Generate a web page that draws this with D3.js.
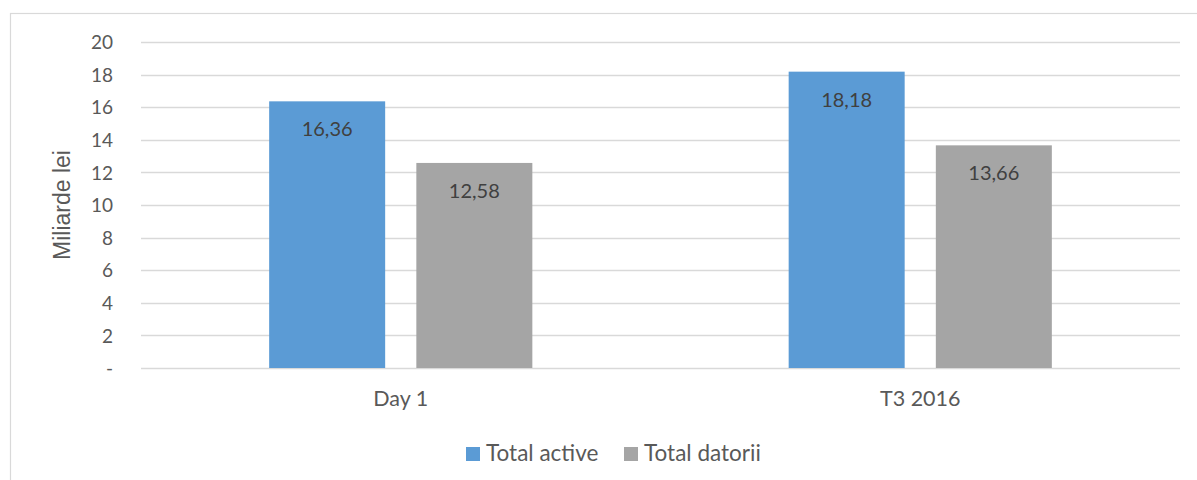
<!DOCTYPE html>
<html>
<head>
<meta charset="utf-8">
<script src="https://cdn.jsdelivr.net/npm/d3@7"></script>
<style>
  html, body { margin: 0; padding: 0; background: #fff; }
  svg { display: block; }
</style>
</head>
<body>
<svg id="chart" width="1197" height="480"></svg>
<script>
// Categories, series and axis ticks
const categories = ["Day 1", "T3 2016"];
const seriesNames = ["Total active", "Total datorii"];
const totalActive = [16.36, 18.18];
const totalDatorii = [12.58, 13.66];
const yTicks = [0, 2, 4, 6, 8, 10, 12, 14, 16, 18, 20];
const seriesColors = ["#5B9BD5", "#A5A5A5"];

const series = [totalActive, totalDatorii];
const font = "Lato, Calibri, 'Open Sans', sans-serif";

const svg = d3.select("#chart");
const W = 1197, H = 480;
const plot = { left: 141, right: 1180, top: 42, bottom: 368 };

// Outer frame of the chart area
svg.append("rect")
  .attr("x", 10.5).attr("y", 13.5)
  .attr("width", W + 10).attr("height", H + 10)
  .attr("fill", "#fff").attr("stroke", "#D9D9D9").attr("stroke-width", 1.2);

const x0 = d3.scaleBand().domain(categories).range([plot.left, plot.right]).paddingInner(0).paddingOuter(0);
const y = d3.scaleLinear().domain([0, 20]).range([plot.bottom, plot.top]);

// Gridlines
svg.append("g")
  .selectAll("line")
  .data(yTicks)
  .join("line")
  .attr("x1", plot.left).attr("x2", plot.right)
  .attr("y1", d => Math.round(y(d)) + 0.5).attr("y2", d => Math.round(y(d)) + 0.5)
  .attr("stroke", "#D9D9D9").attr("stroke-width", 1.5);

// Y axis tick labels
const yAxis = d3.axisLeft(y)
  .tickValues(yTicks)
  .tickSize(0)
  .tickPadding(0)
  .tickFormat(d => d === 0 ? "-" : d3.format("d")(d));
const gy = svg.append("g").attr("transform", `translate(${113},0)`).call(yAxis);
gy.select(".domain").remove();
gy.selectAll("text")
  .attr("font-family", font).attr("font-size", 19)
  .attr("fill", "#595959").attr("dy", "0.35em");

// Y axis title
svg.append("text")
  .attr("transform", `translate(70,${(plot.top + plot.bottom) / 2}) rotate(-90)`)
  .attr("text-anchor", "middle")
  .attr("font-family", "'Liberation Sans', Arial, sans-serif")
  .attr("font-size", 23)
  .attr("fill", "#595959")
  .text("Miliarde lei");

// Bars: width and gap within each category band
const band = x0.bandwidth();
const barW = band * 0.2233;
const gap = band * 0.06;
const groupW = barW * 2 + gap;

const rows = [];
categories.forEach((c, i) => {
  series.forEach((s, j) => {
    rows.push({ cat: c, si: j, value: s[i] });
  });
});

const barX = d => x0(d.cat) + band / 2 - groupW / 2 + d.si * (barW + gap);

svg.append("g")
  .selectAll("rect")
  .data(rows)
  .join("rect")
  .attr("x", barX)
  .attr("y", d => y(d.value))
  .attr("width", barW)
  .attr("height", d => y(0) - y(d.value))
  .attr("fill", d => seriesColors[d.si]);

// Value labels inside bar tops
const fmt = v => d3.format(".2f")(v).replace(".", ",");
svg.append("g")
  .selectAll("text")
  .data(rows)
  .join("text")
  .attr("x", d => barX(d) + barW / 2)
  .attr("y", d => y(d.value) + 35)
  .attr("text-anchor", "middle")
  .attr("font-family", font).attr("font-size", 20)
  .attr("fill", "#404040")
  .text(d => fmt(d.value));

// Category labels
const xAxis = d3.axisBottom(x0).tickSize(0).tickPadding(0);
const gx = svg.append("g").attr("transform", `translate(0,${406})`).call(xAxis);
gx.select(".domain").remove();
gx.selectAll("text")
  .attr("font-family", font).attr("font-size", 21.5)
  .attr("fill", "#595959").attr("dy", 0).attr("y", 0);

// Legend
const legendItems = [
  { name: seriesNames[0], color: seriesColors[0], x: 466 },
  { name: seriesNames[1], color: seriesColors[1], x: 624 }
];
const lg = svg.append("g").selectAll("g").data(legendItems).join("g")
  .attr("transform", d => `translate(${d.x},447)`);
lg.append("rect").attr("width", 14).attr("height", 14).attr("fill", d => d.color);
lg.append("text")
  .attr("x", 20).attr("y", 14)
  .attr("font-family", font).attr("font-size", 22.5)
  .attr("fill", "#595959")
  .text(d => d.name);
</script>
</body>
</html>
